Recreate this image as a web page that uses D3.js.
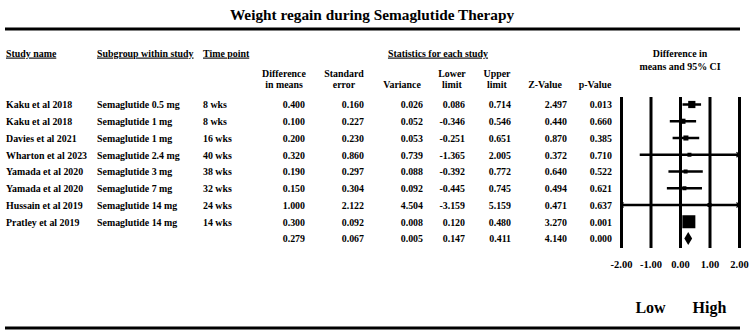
<!DOCTYPE html>
<html lang="en">
<head>
<meta charset="utf-8">
<title>Weight regain forest plot</title>
<script src="https://d3js.org/d3.v7.min.js"></script>
<style>
  body { margin: 0; background: #fff; }
  svg { display: block; }
  text { font-family: "Liberation Serif", "Times New Roman", serif; font-weight: bold; fill: #000; }
  .u { text-decoration: underline; }
</style>
</head>
<body>
<div id="chart"></div>
<script>
// study rows
const studies = ["Kaku et al 2018", "Kaku et al 2018", "Davies et al 2021", "Wharton et al 2023",
                 "Yamada et al 2020", "Yamada et al 2020", "Hussain et al 2019", "Pratley et al 2019"];
const subgroups = ["Semaglutide 0.5 mg", "Semaglutide 1 mg", "Semaglutide 1 mg", "Semaglutide 2.4 mg",
                   "Semaglutide 3 mg", "Semaglutide 7 mg", "Semaglutide 14 mg", "Semaglutide 14 mg"];
const timePoints = ["8 wks", "8 wks", "16 wks", "40 wks", "38 wks", "32 wks", "24 wks", "14 wks"];
const diffMeans = [0.400, 0.100, 0.200, 0.320, 0.190, 0.150, 1.000, 0.300];
const stdError  = [0.160, 0.227, 0.230, 0.860, 0.297, 0.304, 2.122, 0.092];
const variance  = [0.026, 0.052, 0.053, 0.739, 0.088, 0.092, 4.504, 0.008];
const lowerLim  = [0.086, -0.346, -0.251, -1.365, -0.392, -0.445, -3.159, 0.120];
const upperLim  = [0.714, 0.546, 0.651, 2.005, 0.772, 0.745, 5.159, 0.480];
const zValues   = [2.497, 0.440, 0.870, 0.372, 0.640, 0.494, 0.471, 3.270];
const pValues   = [0.013, 0.660, 0.385, 0.710, 0.522, 0.621, 0.637, 0.001];
// pooled (summary) row
const summary = [0.279, 0.067, 0.005, 0.147, 0.411, 4.140, 0.000];
const axisTicks = [-2, -1, 0, 1, 2];

const W = 750, H = 333;
const fmt = d => d.toFixed(3);
const fs = "11px", sx = 0.9;   // table text is a little narrow in the original

const svg = d3.select("#chart").append("svg")
    .attr("width", W).attr("height", H)
    .style("background", "#fff");

const x = d3.scaleLinear().domain([-2, 2]).range([621, 739]);
const y = d3.scaleLinear().domain([0, 8]).range([104.5, 238.5]);
const plotTop = 97, plotBottom = 248;

// squeezed text helper
function label(g, t, px, py, anchor, cls) {
  return g.append("text").attr("class", cls || null)
    .attr("transform", `translate(${px},${py}) scale(${sx},1)`)
    .attr("text-anchor", anchor || "start").style("font-size", fs).text(t);
}

// title + rules
svg.append("text").attr("x", 372).attr("y", 20).attr("text-anchor", "middle")
   .style("font-size", "15.3px").text("Weight regain during Semaglutide Therapy");
svg.append("line").attr("x1", 5).attr("x2", 740).attr("y1", 29).attr("y2", 29)
   .attr("stroke", "#000").attr("stroke-width", 3);
svg.append("line").attr("x1", 5).attr("x2", 740).attr("y1", 328).attr("y2", 328)
   .attr("stroke", "#000").attr("stroke-width", 3);

// header
const leftCols = [6, 97, 203];
[["Study name", 6], ["Subgroup within study", 97], ["Time point", 203]].forEach(([t, px]) => {
  label(svg, t, px, 56.5, "start", "u");
});
label(svg, "Statistics for each study", 438, 56.5, "middle", "u");
label(svg, "Difference in", 680, 56.5, "middle");
label(svg, "means and 95% CI", 680, 70, "middle");

const colRight = [305, 364, 423, 465, 511, 567, 612];
const headCenter = [284, 344, 402, 452, 497, 545, 595];
const headers = [["Difference", "in means"], ["Standard", "error"], ["Variance"], ["Lower", "limit"],
                 ["Upper", "limit"], ["Z-Value"], ["p-Value"]];
headers.forEach((lines, i) => {
  lines.forEach((t, j) => label(svg, t, headCenter[i], 88 - (lines.length - 1 - j) * 11.5, "middle"));
});

// table rows
const stats = [diffMeans, stdError, variance, lowerLim, upperLim, zValues, pValues];
const rows = studies.map((s, i) => ({
  texts: [s, subgroups[i], timePoints[i]],
  nums: stats.map(a => a[i])
}));
rows.push({ texts: ["", "", ""], nums: summary });

const rowG = svg.append("g").selectAll("g").data(rows).enter().append("g")
    .attr("transform", (d, i) => `translate(0,${y(i) + 3.8})`);
rowG.selectAll("text.l").data(d => d.texts).enter().append("text")
    .attr("class", "l").attr("transform", (d, j) => `translate(${leftCols[j]},0) scale(${sx},1)`)
    .style("font-size", fs).text(d => d);
rowG.selectAll("text.n").data(d => d.nums).enter().append("text")
    .attr("class", "n").attr("transform", (d, j) => `translate(${colRight[j]},0) scale(${sx},1)`)
    .attr("text-anchor", "end").style("font-size", fs).text(fmt);

// forest plot: vertical reference lines via the axis
const axis = d3.axisBottom(x).tickValues(axisTicks).tickFormat(d => d.toFixed(2))
    .tickSize(-(plotBottom - plotTop)).tickPadding(13);
const ax = svg.append("g").attr("transform", `translate(0,${plotBottom})`).call(axis);
ax.select(".domain").remove();
ax.selectAll(".tick line").attr("stroke", "#000").attr("stroke-width", 3);
ax.selectAll(".tick text").style("font-size", "10.5px").style("font-family", '"Liberation Serif", serif')
  .style("font-weight", "bold").attr("fill", "#000");

// CIs
const clip = v => Math.max(-2, Math.min(2, v));
const forest = svg.append("g");
forest.selectAll("line.ci").data(studies).enter().append("line")
  .attr("x1", (d, i) => x(clip(lowerLim[i]))).attr("x2", (d, i) => x(clip(upperLim[i])))
  .attr("y1", (d, i) => y(i)).attr("y2", (d, i) => y(i))
  .attr("stroke", "#000").attr("stroke-width", 2.5);

// small arrowheads where the CI runs past the axis
const arrows = [];
studies.forEach((d, i) => {
  if (lowerLim[i] < -2) arrows.push({ i, dir: -1 });
  if (upperLim[i] > 2) arrows.push({ i, dir: 1 });
});
forest.selectAll("path.arrow").data(arrows).enter().append("path")
  .attr("d", a => {
    const xe = x(a.dir * 2), yy = y(a.i);
    return `M${xe - a.dir * 2.5},${yy - 2.5}L${xe},${yy}L${xe - a.dir * 2.5},${yy + 2.5}`;
  })
  .attr("fill", "none").attr("stroke", "#000").attr("stroke-width", 1.2);

// weight boxes (area ~ 1/variance)
const weights = variance.map(v => 1 / v);
const boxSize = d3.scaleSqrt().domain([0, d3.max(weights)]).range([0, 13]);
const bs = w => Math.max(4, boxSize(w));
forest.selectAll("rect.box").data(weights).enter().append("rect")
  .attr("x", (w, i) => x(diffMeans[i]) - bs(w) / 2)
  .attr("y", (w, i) => y(i) - bs(w) / 2)
  .attr("width", bs).attr("height", bs)
  .attr("fill", "#000");

// summary diamond
const sy = y(8);
forest.append("path")
  .attr("d", `M${x(summary[3])},${sy}L${x(summary[0])},${sy - 6.5}L${x(summary[4])},${sy}L${x(summary[0])},${sy + 6.5}Z`)
  .attr("fill", "#000");

// Low / High
svg.append("text").attr("x", x(-1)).attr("y", 313).attr("text-anchor", "middle").style("font-size", "16px").text("Low");
svg.append("text").attr("x", x(1)).attr("y", 313).attr("text-anchor", "middle").style("font-size", "16px").text("High");
</script>
</body>
</html>
